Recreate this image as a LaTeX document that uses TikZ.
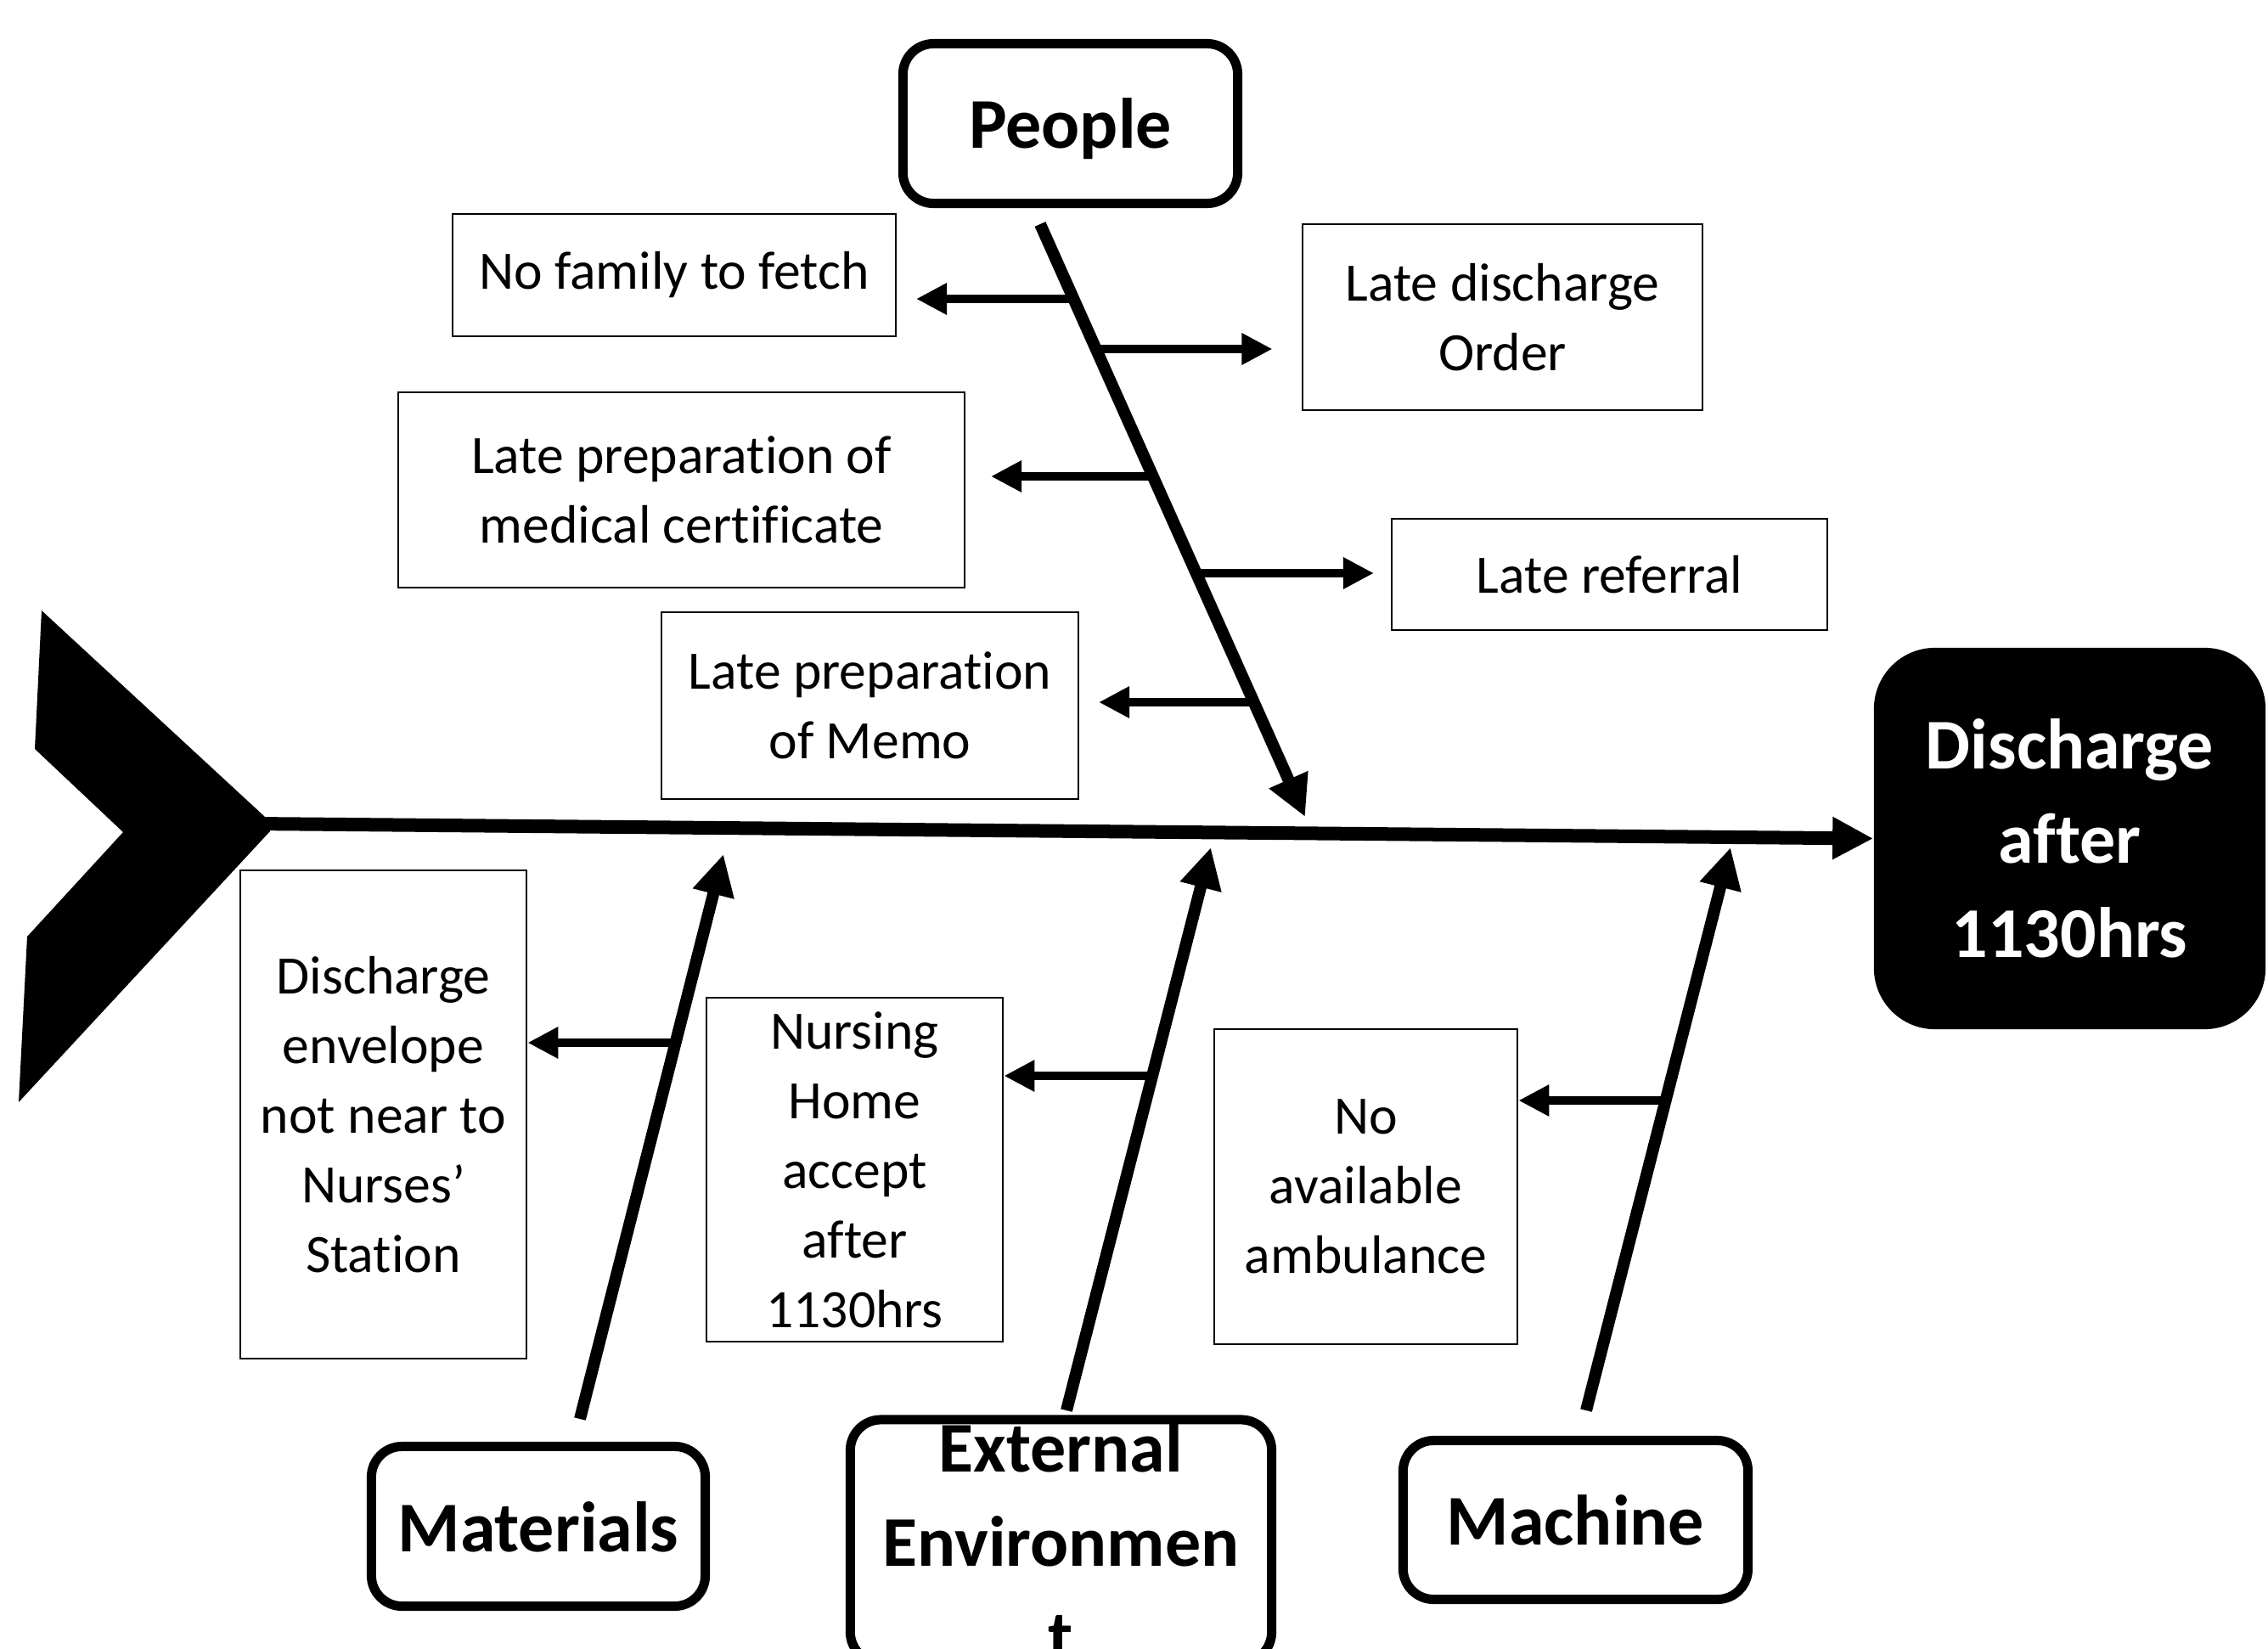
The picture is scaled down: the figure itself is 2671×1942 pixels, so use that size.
\documentclass[tikz,border=0pt]{standalone}
\usepackage{fontspec}
\setmainfont{Carlito}[Ligatures={NoCommon,NoContextual}]
\usetikzlibrary{arrows.meta}
\newcommand{\boxfont}{\fontsize{18.1pt}{23.3pt}\selectfont}
\newcommand{\catfont}{\fontsize{23.9pt}{31.6pt}\selectfont\bfseries}
\begin{document}
\begin{tikzpicture}[x=0.01cm,y=-0.01cm,
  cause/.style={draw, line width=0.025cm, inner sep=0pt, align=center, font=\boxfont},
  cat/.style={draw, line width=0.11cm, rounded corners=0.36cm, inner sep=0pt, align=center, font=\catfont},
  onecat/.style={cat, text depth=0pt},
  spine/.style={line width=0.16cm, -{Triangle[length=0.48cm,width=0.47cm]}},
  bone/.style={line width=0.14cm, -{Triangle[length=0.48cm,width=0.47cm]}},
  branch/.style={line width=0.10cm, -{Triangle[length=0.36cm,width=0.35cm]}}]

\useasboundingbox (0,0) rectangle (2671,1942);

% cause boxes
\node[cause, minimum width=5.22cm, minimum height=1.44cm] (fam) at (794,324) {No family to fetch};
\node[cause, minimum width=4.71cm, minimum height=2.19cm] (ord) at (1769.5,373.5) {Late discharge\\Order};
\node[cause, minimum width=6.67cm, minimum height=2.30cm] (med) at (802.5,577) {Late preparation of\\medical certificate};
\node[cause, minimum width=5.13cm, minimum height=1.31cm] (ref) at (1895.5,676.5) {Late referral};
\node[cause, minimum width=4.91cm, minimum height=2.20cm] (memo) at (1024.5,831) {Late preparation\\of Memo};
\node[cause, minimum width=3.37cm, minimum height=5.75cm] (env) at (451.5,1312.5) {Discharge\\envelope\\not near to\\Nurses’\\Station};
\node[cause, minimum width=3.49cm, minimum height=4.05cm] (nurs) at (1006.5,1377.5) {Nursing\\Home\\accept\\after\\1130hrs};
\node[cause, minimum width=3.57cm, minimum height=3.71cm] (amb) at (1608.5,1397.5) {No\\available\\ambulance};

% category boxes
\node[onecat, minimum width=3.94cm, minimum height=1.88cm] (people) at (1260.5,145.5) {People};
\node[onecat, minimum width=3.93cm, minimum height=1.88cm] (mat) at (634,1797.5) {Materials};
\node[cat, minimum width=4.96cm, minimum height=2.86cm] (ext) at (1249.5,1815) {External\\Environmen\\t};
\node[onecat, minimum width=4.06cm, minimum height=1.87cm] (mach) at (1855.5,1790) {Machine};

% effect
\node[fill=black, text=white, rounded corners=0.72cm, minimum width=4.61cm, minimum height=4.49cm,
      inner sep=0pt, align=center, font=\catfont] (disc) at (2437.5,987.5) {Discharge\\after\\1130hrs};

% fish tail
\fill[black] (49,719) -- (312,962) -- (318,979) -- (22,1298) -- (32,1103) -- (145,980) -- (41,882) -- cycle;

% spine
\coordinate (tail) at (300,970);
\draw[spine] (tail) -- (disc.west);

% bones
\coordinate (pt) at (1225,264); \coordinate (ph) at (1537,962);
\coordinate (mt) at (683,1671); \coordinate (mh) at (852,1006);
\coordinate (et) at (1256,1661); \coordinate (eh) at (1426,998);
\coordinate (ct) at (1868,1661); \coordinate (ch) at (2038,998);
\draw[bone] (pt) -- (ph);
\draw[bone] (mt) -- (mh);
\draw[bone] (et) -- (eh);
\draw[bone] (ct) -- (ch);

% branches on People bone
\coordinate (p1) at (1264,352);  \coordinate (p1e) at (1079,352);
\coordinate (p2) at (1291,411);  \coordinate (p2e) at (1498.5,411);
\coordinate (p3) at (1358,561);  \coordinate (p3e) at (1167,561);
\coordinate (p4) at (1409,675);  \coordinate (p4e) at (1618,675);
\coordinate (p5) at (1477,827);  \coordinate (p5e) at (1294,827);
\draw[branch] (p1) -- (p1e);
\draw[branch] (p2) -- (p2e);
\draw[branch] (p3) -- (p3e);
\draw[branch] (p4) -- (p4e);
\draw[branch] (p5) -- (p5e);

% branches on lower bones
\coordinate (m1) at (796,1228);
\coordinate (e1) at (1357,1267);
\coordinate (c1) at (1962,1296);
\draw[branch] (m1) -- (m1 -| env.east);
\draw[branch] (e1) -- (e1 -| nurs.east);
\draw[branch] (c1) -- (c1 -| amb.east);
\end{tikzpicture}
\end{document}
